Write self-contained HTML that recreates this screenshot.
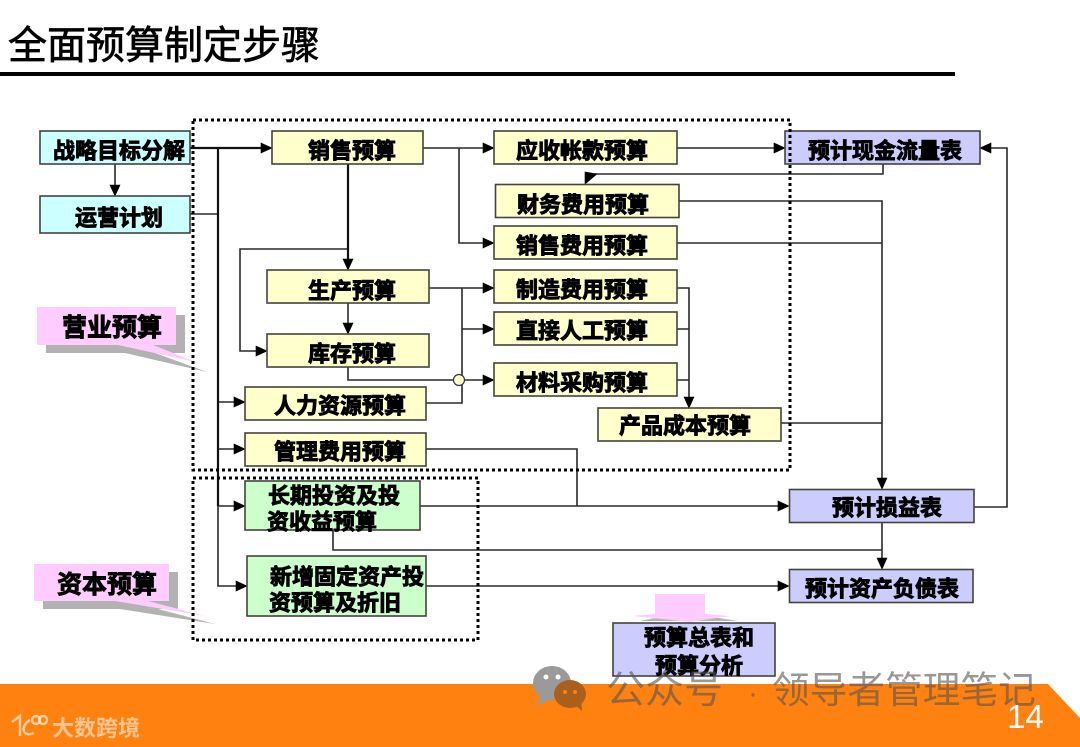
<!DOCTYPE html>
<html><head><meta charset="utf-8"><style>
html,body{margin:0;padding:0;background:#fff}
svg{display:block;filter:blur(.35px)}
text{font-family:"Liberation Sans","Noto Sans CJK SC",sans-serif}
.t text{font-weight:700;font-size:22px;fill:#000;stroke:#000;stroke-width:.9px;dominant-baseline:central}
.b{stroke:#44443c;stroke-width:1.6}
.c{fill:#ccffff}.y{fill:#ffffcc}.g{fill:#ccffcc}.p{fill:#ccccff}
.l path{fill:none;stroke:#2a2a2a;stroke-width:1.6}
.h polygon{fill:#000;stroke:#000;stroke-width:.6}
.d{fill:none;stroke:#000;stroke-width:3;stroke-dasharray:3 3}
</style></head><body>
<svg width="1080" height="747" viewBox="0 0 1080 747" xmlns="http://www.w3.org/2000/svg">
<rect width="1080" height="747" fill="#fff"/>
<text x="8" y="59" font-size="39" fill="#000" stroke="#000" stroke-width=".7">全面预算制定步骤</text>
<rect x="0" y="72" width="955" height="4" fill="#000"/>

<!-- footer -->
<polygon points="0,684 1048,684 1080,718 1080,747 0,747" fill="#ff8110"/>

<!-- callouts -->
<polygon points="46,315 185,315 185,353 155,353 207,372 125,353 46,353" fill="#b2b2b2"/>
<polygon points="37,307 176,307 176,345 153,345 196,362 118,345 37,345" fill="#ffccff"/>
<polygon points="43,572 178,572 178,609 158,609 215,624 120,609 43,609" fill="#b2b2b2"/>
<polygon points="34,564 169,564 169,601 148,601 205,616 115,601 34,601" fill="#ffccff"/>
<polygon points="665,601 705,601 705,616 738,621 640,621 665,616" fill="#b2b2b2"/>
<polygon points="655,594 705,594 705,614 730,616 690,622 632,616 655,614" fill="#ffccff"/>

<!-- connectors -->
<g class="l">
<path d="M190 214H218"/>
<path d="M218 506V586H240"/>
<path d="M218 402H236M218 449H236M218 506H236"/>
<path d="M348 249H240V351H258"/>
<path d="M348 303V326"/>
<path d="M348 367V380H486"/>
<path d="M426 403H462V288"/>
<path d="M429 288H486M462 329H486"/>
<path d="M423 148H486M459 148V243H486"/>
<path d="M677 148H776"/>
<path d="M883 164V174H590"/>
<path d="M679 201H882V481"/>
<path d="M677 243H882M781 423H882"/>
<path d="M677 288H689V400M677 329H689M677 380H689"/>
<path d="M426 449H577V506"/>
<path d="M420 506H781"/>
<path d="M333 530V550H882"/>
<path d="M882 522V561"/>
<path d="M426 586H781"/>
<path d="M974 507H1007V148H990"/>
<path d="M115 164V186"/>
</g>
<path d="M190 148H262M218 148V506M348 164V262" fill="none" stroke="#111" stroke-width="2.200"/>
<circle cx="459" cy="380" r="5.500" fill="#ffffcc" stroke="#333" stroke-width="1.200"/>

<!-- arrowheads -->
<g class="h">
<polygon points="272,148 261,143 261,153"/>
<polygon points="245,402 234,397 234,407"/>
<polygon points="245,449 234,444 234,454"/>
<polygon points="245,506 234,501 234,511"/>
<polygon points="247,586 236,581 236,591"/>
<polygon points="115,196 110,185 120,185"/>
<polygon points="348,270 343,259 353,259"/>
<polygon points="348,334 343,323 353,323"/>
<polygon points="267,351 256,346 256,356"/>
<polygon points="494,148 483,143 483,153"/>
<polygon points="494,243 483,238 483,248"/>
<polygon points="494,288 483,283 483,293"/>
<polygon points="494,329 483,324 483,334"/>
<polygon points="494,380 483,375 483,385"/>
<polygon points="785,148 774,143 774,153"/>
<polygon points="585,184 597,174 585,172"/>
<polygon points="689,408 684,397 694,397"/>
<polygon points="882,489 877,478 887,478"/>
<polygon points="789,506 778,501 778,511"/>
<polygon points="882,569 877,558 887,558"/>
<polygon points="789,586 778,581 778,591"/>
<polygon points="980,148 991,143 991,153"/>
</g>

<!-- boxes -->
<g class="b">
<rect class="c" x="40" y="131" width="150" height="33"/>
<rect class="c" x="40" y="196" width="150" height="37"/>
<rect class="y" x="272" y="131" width="151" height="33"/>
<rect class="y" x="267" y="270" width="162" height="33"/>
<rect class="y" x="267" y="334" width="162" height="33"/>
<rect class="y" x="245" y="387" width="181" height="33"/>
<rect class="y" x="245" y="433" width="181" height="33"/>
<rect class="g" x="245" y="481" width="175" height="49"/>
<rect class="g" x="247" y="556" width="179" height="60"/>
<rect class="y" x="494" y="131" width="183" height="33"/>
<rect class="y" x="495.500" y="184.500" width="183.500" height="33"/>
<rect class="y" x="494" y="226" width="183" height="33"/>
<rect class="y" x="494" y="270" width="183" height="33"/>
<rect class="y" x="494" y="312" width="183" height="33"/>
<rect class="y" x="494" y="363" width="183" height="33"/>
<rect class="y" x="598" y="408" width="183" height="33"/>
<rect class="p" x="785" y="131" width="195" height="33"/>
<rect class="p" x="789.500" y="489.500" width="184.500" height="33"/>
<rect class="p" x="789.500" y="569.500" width="183.500" height="33"/>
<rect class="p" x="613" y="623" width="162" height="53"/>
</g>

<!-- dotted frames -->
<rect class="d" x="193" y="120" width="597" height="350"/>
<rect class="d" x="193" y="478" width="285" height="162"/>

<!-- labels -->
<g class="t" transform="translate(0,1)">
<text x="53" y="150">战略目标分解</text>
<text x="75" y="217">运营计划</text>
<text x="308" y="150">销售预算</text>
<text x="516" y="150">应收帐款预算</text>
<text x="808" y="150">预计现金流量表</text>
<text x="517" y="204">财务费用预算</text>
<text x="516" y="245">销售费用预算</text>
<text x="308" y="290">生产预算</text>
<text x="516" y="289">制造费用预算</text>
<text x="516" y="330">直接人工预算</text>
<text x="308" y="353">库存预算</text>
<text x="516" y="382">材料采购预算</text>
<text x="274" y="405">人力资源预算</text>
<text x="619" y="425">产品成本预算</text>
<text x="274" y="451">管理费用预算</text>
<text x="268" y="495">长期投资及投</text>
<text x="267" y="521">资收益预算</text>
<text x="270" y="576">新增固定资产投</text>
<text x="269" y="602">资预算及折旧</text>
<text x="832" y="507">预计损益表</text>
<text x="805" y="588">预计资产负债表</text>
<text x="644" y="637">预算总表和</text>
<text x="655" y="665">预算分析</text>
<text x="62" y="327" style="font-size:25px">营业预算</text>
<text x="57" y="584" style="font-size:25px">资本预算</text>
</g>

<!-- watermark -->
<ellipse cx="552" cy="683" rx="19" ry="17" fill="#9a9a9a"/>
<polygon points="540,695 538,706 552,698" fill="#9a9a9a"/>
<ellipse cx="570" cy="694" rx="16" ry="14" fill="#a9601c"/>
<polygon points="574,704 582,711 581,698" fill="#a9601c"/>
<g fill="#fff"><circle cx="546" cy="677" r="2.500"/><circle cx="558" cy="677" r="2.500"/></g>
<g fill="#ff8110"><circle cx="565" cy="692" r="2"/><circle cx="575" cy="692" r="2"/></g>
<g fill="#555" opacity=".6">
<text x="606" y="703" font-size="39">公众号</text>
<text x="748" y="703" font-size="30">·</text>
<text x="772" y="703" font-size="37.700">领导者管理笔记</text>
</g>
<text x="1007" y="728" font-size="33" fill="#fff">14</text>

<!-- logo -->
<g fill="none" stroke="#fff" stroke-opacity=".6" stroke-width="2.500">
<path d="M12 722L20 716V736M30 720C20 726 22 738 34 733"/>
<circle cx="36" cy="720" r="4"/><circle cx="43" cy="720" r="4"/>
</g>
<text x="52" y="736" font-size="22" font-weight="700" fill="#fff" fill-opacity=".55">大数跨境</text>
</svg>
</body></html>
